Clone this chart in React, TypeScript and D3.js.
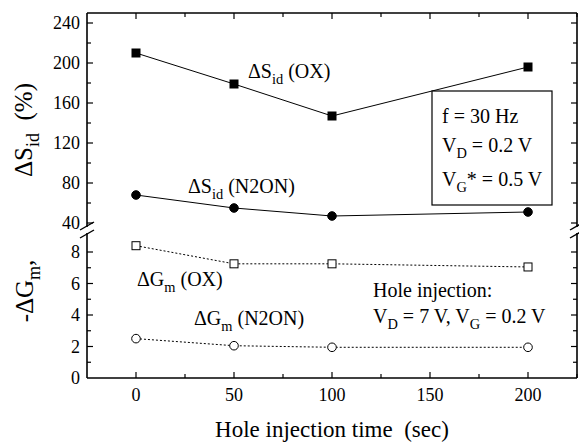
import * as d3 from 'd3';

// hole injection time (sec)
const times = [0, 50, 100, 200];
const sidOX = [210, 179, 147, 196];
const sidN2ON = [68, 55, 47, 51];
const gmOX = [8.4, 7.25, 7.25, 7.05];
const gmN2ON = [2.5, 2.05, 1.95, 1.95];

const xTicks = [0, 50, 100, 150, 200];
const topTicks = [40, 80, 120, 160, 200, 240];
const botTicks = [0, 2, 4, 6, 8];

const FONT = "'Liberation Serif', 'Times New Roman', serif";
const NB = '\u00a0';

const left = 87;
const right = 577;
const top = 13;
const bottom = 378;
const breakTop = 227;
const breakBot = 233;

const x = d3.scaleLinear().domain([-25, 225]).range([left, right]);
const yTop = d3.scaleLinear().domain([40, 240]).range([223, 23]);
const yBot = d3.scaleLinear().domain([0, 8]).range([bottom, 252]);

type Seg = { t: string; sub?: boolean };

// text with subscripts
function Rich({ x: tx, y: ty, segs, size = 20, anchor = 'start', transform }: any) {
  let shift = 0;
  return (
    <text x={tx} y={ty} fontSize={size} textAnchor={anchor} transform={transform} style={{ fontFamily: FONT }}>
      {segs.map((s: Seg, i: number) => {
        const want = s.sub ? size * 0.28 : 0;
        const dy = want - shift;
        shift = want;
        return (
          <tspan key={i} dy={dy} fontSize={s.sub ? size * 0.72 : size}>
            {s.t}
          </tspan>
        );
      })}
    </text>
  );
}

const series = [
  { vals: sidOX, y: yTop, dash: undefined, shape: 'square', fill: '#000' },
  { vals: sidN2ON, y: yTop, dash: undefined, shape: 'circle', fill: '#000' },
  { vals: gmOX, y: yBot, dash: '2,2', shape: 'square', fill: '#fff' },
  { vals: gmN2ON, y: yBot, dash: '2,2', shape: 'circle', fill: '#fff' },
];

export default function App() {
  const lineGen = d3.line();
  const xMinor = d3.range(0, 226, 25);
  const topMinor = d3.range(40, 241, 20);
  const botMinor = d3.range(1, 9, 1);

  return (
    <svg
      width={579}
      height={445}
      style={{ position: 'absolute', left: 0, top: 0, background: '#fff', fontFamily: FONT }}
    >
      {/* frame */}
      <g stroke="#000" strokeWidth={1.6} fill="none">
        <line x1={left} x2={right} y1={top} y2={top} />
        <line x1={left} x2={right} y1={bottom} y2={bottom} />
        {[left, right].map((xx) => (
          <g key={xx}>
            <line x1={xx} x2={xx} y1={top} y2={breakTop} />
            <line x1={xx} x2={xx} y1={breakBot} y2={bottom} />
            {[breakTop - 1, breakBot + 1].map((yy) => (
              <line key={yy} x1={xx - 7} x2={xx + 7} y1={yy + 4} y2={yy - 4} strokeWidth={1.4} />
            ))}
          </g>
        ))}
      </g>

      {/* ticks */}
      <g stroke="#000" strokeWidth={1.2}>
        {xMinor.map((v) => {
          const len = v % 50 === 0 ? 6 : 4;
          return (
            <g key={'x' + v}>
              <line x1={x(v)} x2={x(v)} y1={bottom} y2={bottom - len} />
              <line x1={x(v)} x2={x(v)} y1={top} y2={top + len} />
            </g>
          );
        })}
        {topMinor.map((v) => {
          const len = v % 40 === 0 ? 6 : 4;
          return (
            <g key={'t' + v}>
              <line x1={left} x2={left + len} y1={yTop(v)} y2={yTop(v)} />
              <line x1={right} x2={right - len} y1={yTop(v)} y2={yTop(v)} />
            </g>
          );
        })}
        {botMinor.map((v) => {
          const len = v % 2 === 0 ? 6 : 4;
          return (
            <g key={'b' + v}>
              <line x1={left} x2={left + len} y1={yBot(v)} y2={yBot(v)} />
              <line x1={right} x2={right - len} y1={yBot(v)} y2={yBot(v)} />
            </g>
          );
        })}
      </g>

      {/* tick labels */}
      <g fontSize={18} style={{ fontFamily: FONT }}>
        {xTicks.map((d) => (
          <text key={'xl' + d} x={x(d)} y={401} textAnchor="middle">
            {d}
          </text>
        ))}
        {topTicks.map((d) => (
          <text key={'tl' + d} x={80} y={yTop(d) + 6} textAnchor="end">
            {d}
          </text>
        ))}
        {botTicks.map((d) => (
          <text key={'bl' + d} x={80} y={yBot(d) + 6} textAnchor="end">
            {d}
          </text>
        ))}
      </g>

      {/* series */}
      {series.map((s, si) => {
        const pts = times.map((t, i) => [x(t), s.y(s.vals[i])] as [number, number]);
        return (
          <g key={si}>
            <path d={lineGen(pts) || ''} fill="none" stroke="#000" strokeWidth={1} strokeDasharray={s.dash} />
            <g stroke="#000" strokeWidth={1} fill={s.fill}>
              {pts.map(([px, py], i) =>
                s.shape === 'square' ? (
                  <rect key={i} x={px - 4} y={py - 4} width={8} height={8} />
                ) : (
                  <circle key={i} cx={px} cy={py} r={4.3} />
                )
              )}
            </g>
          </g>
        );
      })}

      {/* series labels */}
      <Rich x={248} y={78} segs={[{ t: 'ΔS' }, { t: 'id', sub: true }, { t: NB + '(OX)' }]} />
      <Rich x={188} y={193} segs={[{ t: 'ΔS' }, { t: 'id', sub: true }, { t: NB + '(N2ON)' }]} />
      <Rich x={137} y={286} segs={[{ t: 'ΔG' }, { t: 'm', sub: true }, { t: NB + '(OX)' }]} />
      <Rich x={194} y={325} segs={[{ t: 'ΔG' }, { t: 'm', sub: true }, { t: NB + '(N2ON)' }]} />

      {/* hole injection conditions */}
      <Rich x={373} y={297} segs={[{ t: 'Hole injection:' }]} />
      <Rich
        x={373}
        y={323}
        segs={[{ t: 'V' }, { t: 'D', sub: true }, { t: ' = 7 V, V' }, { t: 'G', sub: true }, { t: ' = 0.2 V' }]}
      />

      {/* measurement box */}
      <rect x={432} y={91} width={120} height={114} fill="#fff" stroke="#000" strokeWidth={1.2} />
      <Rich x={442} y={123} segs={[{ t: 'f = 30 Hz' }]} />
      <Rich x={442} y={152} segs={[{ t: 'V' }, { t: 'D', sub: true }, { t: ' = 0.2 V' }]} />
      <Rich x={442} y={186} segs={[{ t: 'V' }, { t: 'G', sub: true }, { t: '* = 0.5 V' }]} />

      {/* axis titles */}
      <text x={332} y={437} fontSize={23} textAnchor="middle" style={{ fontFamily: FONT }}>
        {'Hole injection time' + NB + NB + '(sec)'}
      </text>
      <Rich
        x={0}
        y={0}
        size={25}
        anchor="middle"
        transform="translate(32,130) rotate(-90)"
        segs={[{ t: 'ΔS' }, { t: 'id', sub: true }, { t: NB + NB + '(%)' }]}
      />
      <Rich
        x={0}
        y={0}
        size={25}
        anchor="middle"
        transform="translate(33,291) rotate(-90)"
        segs={[{ t: '-ΔG' }, { t: 'm', sub: true }, { t: ',' }]}
      />
    </svg>
  );
}
